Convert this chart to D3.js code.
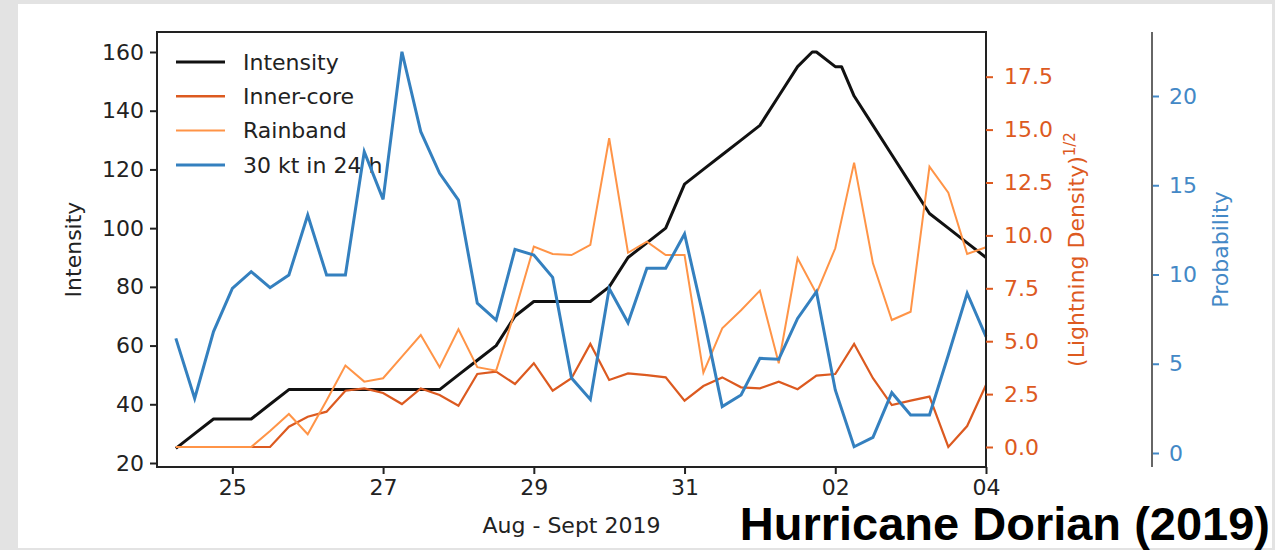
<!DOCTYPE html>
<html>
<head>
<meta charset="utf-8">
<script src="https://cdn.jsdelivr.net/npm/d3@7"></script>
<style>
  body { margin: 0; background: #e3e3e3; }
  svg { display: block; }
</style>
</head>
<body>
<div id="chart"></div>
<script>
// 6-hourly analysis times (lightning + probability)
var times6h = [
  "2019-08-24 06", "2019-08-24 12", "2019-08-24 18",
  "2019-08-25 00", "2019-08-25 06", "2019-08-25 12", "2019-08-25 18",
  "2019-08-26 00", "2019-08-26 06", "2019-08-26 12", "2019-08-26 18",
  "2019-08-27 00", "2019-08-27 06", "2019-08-27 12", "2019-08-27 18",
  "2019-08-28 00", "2019-08-28 06", "2019-08-28 12", "2019-08-28 18",
  "2019-08-29 00", "2019-08-29 06", "2019-08-29 12", "2019-08-29 18",
  "2019-08-30 00", "2019-08-30 06", "2019-08-30 12", "2019-08-30 18",
  "2019-08-31 00", "2019-08-31 06", "2019-08-31 12", "2019-08-31 18",
  "2019-09-01 00", "2019-09-01 06", "2019-09-01 12", "2019-09-01 18",
  "2019-09-02 00", "2019-09-02 06", "2019-09-02 12", "2019-09-02 18",
  "2019-09-03 00", "2019-09-03 06", "2019-09-03 12", "2019-09-03 18",
  "2019-09-04 00"
];
// best track times (with landfall points)
var timesBT = [
  "2019-08-24 06:00", "2019-08-24 12:00", "2019-08-24 18:00",
  "2019-08-25 00:00", "2019-08-25 06:00", "2019-08-25 12:00", "2019-08-25 18:00",
  "2019-08-26 00:00", "2019-08-26 06:00", "2019-08-26 12:00", "2019-08-26 18:00",
  "2019-08-27 00:00", "2019-08-27 06:00", "2019-08-27 12:00", "2019-08-27 18:00",
  "2019-08-28 00:00", "2019-08-28 06:00", "2019-08-28 12:00", "2019-08-28 18:00",
  "2019-08-29 00:00", "2019-08-29 06:00", "2019-08-29 12:00", "2019-08-29 18:00",
  "2019-08-30 00:00", "2019-08-30 06:00", "2019-08-30 12:00", "2019-08-30 18:00",
  "2019-08-31 00:00", "2019-08-31 06:00", "2019-08-31 12:00", "2019-08-31 18:00",
  "2019-09-01 00:00", "2019-09-01 06:00", "2019-09-01 12:00", "2019-09-01 16:40", "2019-09-01 18:00",
  "2019-09-02 00:00", "2019-09-02 02:00", "2019-09-02 06:00", "2019-09-02 12:00", "2019-09-02 18:00",
  "2019-09-03 00:00", "2019-09-03 06:00", "2019-09-03 12:00", "2019-09-03 18:00",
  "2019-09-04 00:00"
];
var intensity = [25, 30, 35, 35, 35, 40, 45, 45, 45, 45, 45, 45, 45, 45, 45, 50, 55, 60, 70,
  75, 75, 75, 75, 80, 90, 95, 100, 115, 120, 125, 130, 135, 145, 155, 160, 160,
  155, 155, 145, 135, 125, 115, 105, 100, 95, 90];
var innerCore = [0, 0, 0, 0, 0, 0, 0.96, 1.43, 1.67, 2.66, 2.77, 2.55, 2.03, 2.77, 2.46, 1.95,
  3.45, 3.56, 2.98, 3.96, 2.66, 3.25, 4.87, 3.17, 3.48, 3.4, 3.29, 2.19, 2.88, 3.29,
  2.82, 2.77, 3.09, 2.73, 3.37, 3.45, 4.87, 3.25, 1.98, 2.19, 2.38, 0, 0.99, 2.93];
var rainband = [0, 0, 0, 0, 0, 0.76, 1.56, 0.6, 2.2, 3.85, 3.09, 3.25, 4.27, 5.29, 3.77, 5.56,
  3.77, 3.61, 6.4, 9.47, 9.12, 9.07, 9.55, 14.59, 9.18, 9.7, 9.07, 9.07, 3.51, 5.61,
  6.46, 7.39, 3.96, 8.92, 7.26, 9.39, 13.44, 8.68, 6.0, 6.39, 13.25, 12.02, 9.12, 9.44];
var probability = [6.42, 3.06, 6.8, 9.22, 10.16, 9.26, 9.97, 13.33, 9.97, 9.97, 16.88, 14.21,
  22.48, 18.0, 15.67, 14.17, 8.39, 7.45, 11.41, 11.09, 9.84, 4.2, 3.0, 9.22, 7.3, 10.35,
  10.35, 12.27, 7.64, 2.6, 3.25, 5.3, 5.25, 7.54, 9.04, 3.53, 0.35, 0.88, 3.38, 2.13,
  2.13, 5.49, 8.95, 6.52];
var xTickDates = ["2019-08-25", "2019-08-27", "2019-08-29", "2019-08-31", "2019-09-02", "2019-09-04"];
var leftTicks = [20, 40, 60, 80, 100, 120, 140, 160];
var lightTicks = [0, 2.5, 5, 7.5, 10, 12.5, 15, 17.5];
var probTicks = [0, 5, 10, 15, 20];
var legendNames = ["Intensity", "Inner-core", "Rainband", "30 kt in 24 h"];

var width = 1275, height = 550;
var font = "'DejaVu Sans', sans-serif";
var black = "#111", innerColor = "#dc5a20", rainColor = "#ff9447", blueColor = "#3480bf";
var orangeText = "#dd5a1f", blueText = "#4388c6";

var parse6 = d3.utcParse("%Y-%m-%d %H");
var parseBT = d3.utcParse("%Y-%m-%d %H:%M");
var parseDay = d3.utcParse("%Y-%m-%d");

var svg = d3.select("#chart").append("svg").attr("width", width).attr("height", height);
svg.append("rect").attr("x", 0).attr("y", 0).attr("width", width).attr("height", height).attr("fill", "#e3e3e3");
svg.append("rect").attr("x", 18).attr("y", 4).attr("width", 1254).attr("height", 544).attr("fill", "#fff");

var plot = { left: 157, right: 986, top: 32, bottom: 467 };

var x = d3.scaleUtc()
  .domain([parseDay("2019-08-24"), parseDay("2019-09-04")])
  .range([plot.left, plot.right]);
var y = d3.scaleLinear().domain([20, 160]).range([463, 52]); // intensity
var yL = d3.scaleLinear().domain([0, 17.5]).range([447, 76.7]); // lightning
var yP = d3.scaleLinear().domain([0, 20]).range([453, 96]); // probability

// 图例
var legend = svg.append("g");
var legendColors = [black, innerColor, rainColor, blueColor];
var legendWidths = [3, 2.4, 2, 3];
legendNames.forEach(function (name, i) {
  var ly = 62 + i * 34.3;
  legend.append("line")
    .attr("x1", 176).attr("x2", 225).attr("y1", ly).attr("y2", ly)
    .attr("stroke", legendColors[i]).attr("stroke-width", legendWidths[i]);
  legend.append("text")
    .attr("x", 243).attr("y", ly).attr("dy", "0.35em")
    .style("font-family", font).style("font-size", "22px").attr("fill", "#222")
    .text(name);
});

// lines
var bt = timesBT.map(function (t, i) { return { date: parseBT(t), value: intensity[i] }; });
var dates6 = times6h.map(parse6);

function series(arr) {
  return arr.map(function (v, i) { return { date: dates6[i], value: v }; });
}

svg.append("path").datum(bt)
  .attr("fill", "none").attr("stroke", black).attr("stroke-width", 3).attr("stroke-linejoin", "round")
  .attr("d", d3.line().x(function (d) { return x(d.date); }).y(function (d) { return y(d.value); }));

var lineL = d3.line().x(function (d) { return x(d.date); }).y(function (d) { return yL(d.value); });
svg.append("path").datum(series(innerCore))
  .attr("fill", "none").attr("stroke", innerColor).attr("stroke-width", 2.2).attr("d", lineL);
svg.append("path").datum(series(rainband))
  .attr("fill", "none").attr("stroke", rainColor).attr("stroke-width", 2).attr("d", lineL);

svg.append("path").datum(series(probability))
  .attr("fill", "none").attr("stroke", blueColor).attr("stroke-width", 3)
  .attr("d", d3.line().x(function (d) { return x(d.date); }).y(function (d) { return yP(d.value); }));

// frame
svg.append("rect")
  .attr("x", plot.left).attr("y", plot.top)
  .attr("width", plot.right - plot.left).attr("height", plot.bottom - plot.top)
  .attr("fill", "none").attr("stroke", "#222").attr("stroke-width", 2);

// axes
function styleAxis(g, color) {
  g.select(".domain").remove();
  g.selectAll(".tick line").attr("stroke", color).attr("stroke-width", 2);
  g.selectAll(".tick text").style("font-family", font).style("font-size", "22px").attr("fill", color);
}

var xAxis = svg.append("g").attr("transform", "translate(0," + plot.bottom + ")")
  .call(d3.axisBottom(x).tickValues(xTickDates.map(parseDay)).tickFormat(d3.utcFormat("%d"))
    .tickSizeInner(7).tickSizeOuter(0).tickPadding(5));
styleAxis(xAxis, "#222");

var yAxis = svg.append("g").attr("transform", "translate(" + plot.left + ",0)")
  .call(d3.axisLeft(y).tickValues(leftTicks).tickSizeInner(7).tickSizeOuter(0).tickPadding(6));
styleAxis(yAxis, "#222");

var lAxis = svg.append("g").attr("transform", "translate(" + plot.right + ",0)")
  .call(d3.axisRight(yL).tickValues(lightTicks).tickFormat(d3.format(".1f"))
    .tickSizeInner(7).tickSizeOuter(0).tickPadding(11));
styleAxis(lAxis, orangeText);

var pAxis = svg.append("g").attr("transform", "translate(1152,0)")
  .call(d3.axisRight(yP).tickValues(probTicks).tickSizeInner(7).tickSizeOuter(0).tickPadding(10));
styleAxis(pAxis, blueText);
pAxis.append("line")
  .attr("x1", 0).attr("x2", 0).attr("y1", plot.top).attr("y2", plot.bottom)
  .attr("stroke", "#666").attr("stroke-width", 2);

// axis labels
svg.append("text")
  .attr("transform", "translate(81," + (plot.top + plot.bottom) / 2 + ")rotate(-90)")
  .attr("text-anchor", "middle")
  .style("font-family", font).style("font-size", "22px").attr("fill", "#222")
  .text("Intensity");

var lLabel = svg.append("text")
  .attr("transform", "translate(1084," + (plot.top + plot.bottom) / 2 + ")rotate(-90)")
  .attr("text-anchor", "middle")
  .style("font-family", font).style("font-size", "22px").attr("fill", orangeText);
lLabel.append("tspan").text("(Lightning Density)");
lLabel.append("tspan").attr("dy", -9).style("font-size", "15px").text("1/2");

svg.append("text")
  .attr("transform", "translate(1228," + (plot.top + plot.bottom) / 2 + ")rotate(-90)")
  .attr("text-anchor", "middle")
  .style("font-family", font).style("font-size", "22px").attr("fill", blueText)
  .text("Probability");

svg.append("text")
  .attr("x", (plot.left + plot.right) / 2).attr("y", 533)
  .attr("text-anchor", "middle")
  .style("font-family", font).style("font-size", "22px").attr("fill", "#222")
  .text("Aug - Sept 2019");

// 标题
svg.append("text")
  .attr("x", 1270).attr("y", 540)
  .attr("text-anchor", "end")
  .style("font-family", "'Liberation Sans', Arial, sans-serif")
  .style("font-size", "47px").style("font-weight", "bold").attr("fill", "#000")
  .text("Hurricane Dorian (2019)");
</script>
</body>
</html>
